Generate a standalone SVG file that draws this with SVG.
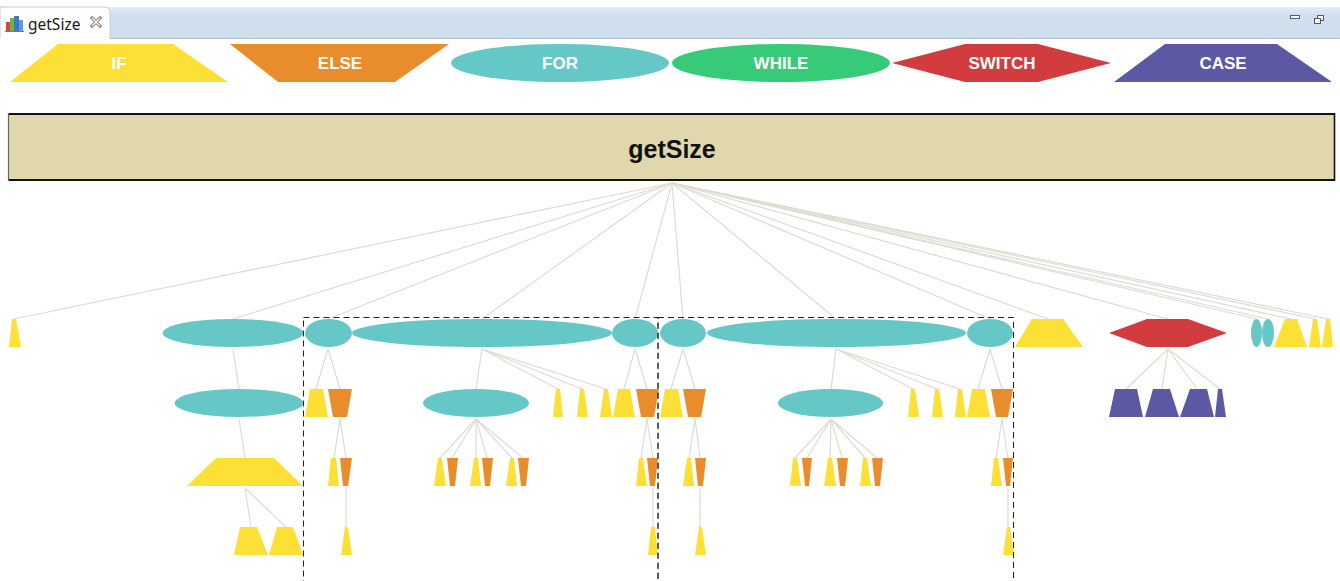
<svg xmlns="http://www.w3.org/2000/svg" width="1340" height="581" viewBox="0 0 1340 581">
  <style>
    .if { fill: #fde035; }
    .else { fill: #e98c2b; }
    .for { fill: #65c8c7; }
    .while { fill: #37cb79; }
    .switch { fill: #d33c3e; }
    .case { fill: #5d58a3; }
    .lbl { font-family: "Liberation Sans", Arial, sans-serif; font-size: 17px; font-weight: bold; fill: #ffffff; text-anchor: middle; }
    .edge { stroke: #dedbd2; stroke-width: 1.2; fill: none; }
    .frame { fill: none; stroke: #222222; stroke-width: 1; stroke-dasharray: 6 4; }
  </style>

  <rect x="0" y="0" width="1340" height="581" fill="#ffffff"/>

  <!-- editor tab strip -->
  <g id="tabbar">
    <defs>
      <linearGradient id="band" x1="0" y1="0" x2="0" y2="1">
        <stop offset="0" stop-color="#e4edf6"/>
        <stop offset="0.25" stop-color="#d1e0ee"/>
        <stop offset="1" stop-color="#cfdeec"/>
      </linearGradient>
    </defs>
    <rect x="0" y="7" width="1340" height="31" fill="url(#band)"/>
    <line x1="110" y1="38.5" x2="1340" y2="38.5" stroke="#aebdd0" stroke-width="1"/>
    <path d="M0,7 H104 Q110,7 110,13 V39 H0 Z" fill="#ffffff" stroke="#c2ccd8" stroke-width="1"/>
    <rect x="0" y="38" width="110" height="3" fill="#ffffff"/>
    <!-- chart icon -->
    <rect x="6" y="22" width="4" height="9" fill="#d8433b"/>
    <rect x="10" y="18" width="4" height="13" fill="#6cb33f"/>
    <rect x="14" y="16" width="5" height="15" fill="#3c78c8"/>
    <rect x="19" y="20" width="4" height="11" fill="#5b9be0"/>
    <line x1="5" y1="31.5" x2="24" y2="31.5" stroke="#7a7a7a" stroke-width="1"/>
    <text x="28" y="30" font-family="'Noto Sans', 'Liberation Sans', sans-serif" font-size="15.5" fill="#1a1a1a">getSize</text>
    <!-- close icon -->
    <g stroke="#8a8a8a" stroke-width="3.2" stroke-linecap="square">
      <line x1="92" y1="18" x2="100" y2="26"/>
      <line x1="100" y1="18" x2="92" y2="26"/>
    </g>
    <g stroke="#ffffff" stroke-width="1.2" stroke-linecap="square">
      <line x1="92.5" y1="18.5" x2="99.5" y2="25.5"/>
      <line x1="99.5" y1="18.5" x2="92.5" y2="25.5"/>
    </g>
    <!-- minimize / restore -->
    <rect x="1290.5" y="15.5" width="9" height="3" fill="#ffffff" stroke="#5a5a5a" stroke-width="1"/>
    <rect x="1317.5" y="15.5" width="6" height="5" fill="#ffffff" stroke="#5a5a5a" stroke-width="1"/>
    <rect x="1314.5" y="18.5" width="6" height="5" fill="#ffffff" stroke="#5a5a5a" stroke-width="1"/>
  </g>

  <!-- legend -->
  <g id="legend-if">
    <polygon class="if" points="58,44 173,44 228,82 10,82"/>
    <text class="lbl" x="119" y="69">IF</text>
  </g>
  <g id="legend-else">
    <polygon class="else" points="230,44 449,44 395,82 278,82"/>
    <text class="lbl" x="340" y="69">ELSE</text>
  </g>
  <g id="legend-for">
    <ellipse class="for" cx="560" cy="63" rx="109" ry="19"/>
    <text class="lbl" x="560" y="69">FOR</text>
  </g>
  <g id="legend-while">
    <ellipse class="while" cx="781" cy="63" rx="109" ry="19"/>
    <text class="lbl" x="781" y="69">WHILE</text>
  </g>
  <g id="legend-switch">
    <polygon class="switch" points="892,63 965,44 1038,44 1111,63 1038,82 965,82"/>
    <text class="lbl" x="1002" y="69">SWITCH</text>
  </g>
  <g id="legend-case">
    <polygon class="case" points="1165,44 1277,44 1332,82 1114,82"/>
    <text class="lbl" x="1223" y="69">CASE</text>
  </g>

  <!-- method root -->
  <g id="root">
    <rect x="8" y="113" width="1327" height="68" fill="#e0d8ac"/>
    <line x1="8" y1="114" x2="1335" y2="114" stroke="#111111" stroke-width="2.2"/>
    <line x1="8" y1="180" x2="1335" y2="180" stroke="#111111" stroke-width="2.2"/>
    <line x1="8.5" y1="113" x2="8.5" y2="181" stroke="#666666" stroke-width="1.2"/>
    <line x1="1334.5" y1="113" x2="1334.5" y2="181" stroke="#111111" stroke-width="1.6"/>
    <text x="672" y="158" font-family="'Liberation Sans', Arial, sans-serif" font-size="25" font-weight="bold" fill="#111111" text-anchor="middle">getSize</text>
  </g>

  <!-- connectors -->
  <g id="connectors" class="edge">
    <!-- root to first level -->
    <line x1="672" y1="183" x2="14" y2="319"/>
    <line x1="672" y1="183" x2="233" y2="319"/>
    <line x1="672" y1="183" x2="328" y2="319"/>
    <line x1="672" y1="183" x2="482" y2="319"/>
    <line x1="672" y1="183" x2="635" y2="319"/>
    <line x1="672" y1="183" x2="683" y2="319"/>
    <line x1="672" y1="183" x2="836" y2="319"/>
    <line x1="672" y1="183" x2="990" y2="319"/>
    <line x1="672" y1="183" x2="1048" y2="319"/>
    <line x1="672" y1="183" x2="1168" y2="319"/>
    <line x1="672" y1="183" x2="1257" y2="319"/>
    <line x1="672" y1="183" x2="1268" y2="319"/>
    <line x1="672" y1="183" x2="1291" y2="319"/>
    <line x1="672" y1="183" x2="1315" y2="319"/>
    <line x1="672" y1="183" x2="1328" y2="319"/>
    <!-- first to second level -->
    <line x1="233" y1="349" x2="239" y2="389"/>
    <line x1="328" y1="349" x2="316" y2="389"/>
    <line x1="328" y1="349" x2="340" y2="389"/>
    <line x1="482" y1="349" x2="476" y2="389"/>
    <line x1="482" y1="349" x2="558" y2="389"/>
    <line x1="482" y1="349" x2="582" y2="389"/>
    <line x1="482" y1="349" x2="606" y2="389"/>
    <line x1="635" y1="349" x2="624" y2="389"/>
    <line x1="635" y1="349" x2="647" y2="389"/>
    <line x1="683" y1="349" x2="671" y2="389"/>
    <line x1="683" y1="349" x2="695" y2="389"/>
    <line x1="836" y1="349" x2="831" y2="389"/>
    <line x1="836" y1="349" x2="913" y2="389"/>
    <line x1="836" y1="349" x2="937" y2="389"/>
    <line x1="836" y1="349" x2="960" y2="389"/>
    <line x1="990" y1="349" x2="978" y2="389"/>
    <line x1="990" y1="349" x2="1002" y2="389"/>
    <line x1="1168" y1="349" x2="1126" y2="389"/>
    <line x1="1168" y1="349" x2="1162" y2="389"/>
    <line x1="1168" y1="349" x2="1197" y2="389"/>
    <line x1="1168" y1="349" x2="1220" y2="389"/>
    <!-- second to third level -->
    <line x1="239" y1="419" x2="245" y2="458"/>
    <line x1="340" y1="419" x2="334" y2="458"/>
    <line x1="340" y1="419" x2="346" y2="458"/>
    <line x1="476" y1="419" x2="440" y2="458"/>
    <line x1="476" y1="419" x2="452" y2="458"/>
    <line x1="476" y1="419" x2="476" y2="458"/>
    <line x1="476" y1="419" x2="487" y2="458"/>
    <line x1="476" y1="419" x2="512" y2="458"/>
    <line x1="476" y1="419" x2="523" y2="458"/>
    <line x1="647" y1="419" x2="641" y2="458"/>
    <line x1="647" y1="419" x2="653" y2="458"/>
    <line x1="695" y1="419" x2="689" y2="458"/>
    <line x1="695" y1="419" x2="700" y2="458"/>
    <line x1="831" y1="419" x2="795" y2="458"/>
    <line x1="831" y1="419" x2="807" y2="458"/>
    <line x1="831" y1="419" x2="830" y2="458"/>
    <line x1="831" y1="419" x2="842" y2="458"/>
    <line x1="831" y1="419" x2="865" y2="458"/>
    <line x1="831" y1="419" x2="877" y2="458"/>
    <line x1="1002" y1="419" x2="996" y2="458"/>
    <line x1="1002" y1="419" x2="1008" y2="458"/>
    <!-- third to fourth level -->
    <line x1="245" y1="488" x2="251" y2="527"/>
    <line x1="245" y1="488" x2="286" y2="527"/>
    <line x1="346" y1="488" x2="346" y2="527"/>
    <line x1="653" y1="488" x2="653" y2="527"/>
    <line x1="700" y1="488" x2="700" y2="527"/>
    <line x1="1008" y1="488" x2="1008" y2="527"/>
  </g>

  <!-- first level -->
  <g id="n1-if"><polygon class="if" points="12,319 16,319 21,347 9,347"/></g>
  <g id="n1-for-a"><ellipse class="for" cx="233" cy="333" rx="70.5" ry="14"/></g>
  <g id="n1-for-b"><ellipse class="for" cx="328.5" cy="333" rx="23.5" ry="14"/></g>
  <g id="n1-for-c"><ellipse class="for" cx="482" cy="333" rx="130" ry="14"/></g>
  <g id="n1-for-d"><ellipse class="for" cx="635" cy="333" rx="23" ry="14"/></g>
  <g id="n1-for-e"><ellipse class="for" cx="683" cy="333" rx="23" ry="14"/></g>
  <g id="n1-for-f"><ellipse class="for" cx="836.5" cy="333" rx="129.5" ry="14"/></g>
  <g id="n1-for-g"><ellipse class="for" cx="990" cy="333" rx="23" ry="14"/></g>
  <g id="n1-if-b"><polygon class="if" points="1032,319 1063,319 1083,347 1015,347"/></g>
  <g id="n1-switch"><polygon class="switch" points="1109,333 1147,319 1188,319 1227,333 1188,347 1147,347"/></g>
  <g id="n1-for-h"><ellipse class="for" cx="1256.5" cy="333" rx="5.5" ry="14"/></g>
  <g id="n1-for-i"><ellipse class="for" cx="1268" cy="333" rx="6" ry="14"/></g>
  <g id="n1-if-c"><polygon class="if" points="1285,319 1297,319 1307,347 1274,347"/></g>
  <g id="n1-if-d"><polygon class="if" points="1313,319 1317,319 1321,347 1309,347"/></g>
  <g id="n1-if-e"><polygon class="if" points="1326,319 1330,319 1333,347 1322,347"/></g>

  <!-- second level -->
  <g id="n2-for-a"><ellipse class="for" cx="239" cy="403" rx="64.5" ry="14"/></g>
  <g id="n2-if-a"><polygon class="if" points="310,389 323,389 328,417 305,417"/></g>
  <g id="n2-else-a"><polygon class="else" points="328,389 352,389 347,417 333,417"/></g>
  <g id="n2-for-b"><ellipse class="for" cx="476" cy="403" rx="53" ry="14"/></g>
  <g id="n2-if-b"><polygon class="if" points="556,389 560,389 563,417 553,417"/></g>
  <g id="n2-if-c"><polygon class="if" points="580,389 584,389 588,417 577,417"/></g>
  <g id="n2-if-d"><polygon class="if" points="604,389 608,389 612,417 600,417"/></g>
  <g id="n2-if-e"><polygon class="if" points="618,389 630,389 635,417 613,417"/></g>
  <g id="n2-else-b"><polygon class="else" points="636,389 659,389 654,417 641,417"/></g>
  <g id="n2-if-f"><polygon class="if" points="665,389 678,389 683,417 660,417"/></g>
  <g id="n2-else-c"><polygon class="else" points="683,389 706,389 701,417 688,417"/></g>
  <g id="n2-for-c"><ellipse class="for" cx="830.5" cy="403" rx="52.5" ry="14"/></g>
  <g id="n2-if-g"><polygon class="if" points="911,389 915,389 919,417 908,417"/></g>
  <g id="n2-if-h"><polygon class="if" points="935,389 939,389 943,417 932,417"/></g>
  <g id="n2-if-i"><polygon class="if" points="958,389 962,389 966,417 955,417"/></g>
  <g id="n2-if-j"><polygon class="if" points="972,389 985,389 990,417 967,417"/></g>
  <g id="n2-else-d"><polygon class="else" points="991,389 1013,389 1008,417 996,417"/></g>
  <g id="n2-case-a"><polygon class="case" points="1115,389 1137,389 1143,417 1109,417"/></g>
  <g id="n2-case-b"><polygon class="case" points="1153,389 1170,389 1179,417 1145,417"/></g>
  <g id="n2-case-c"><polygon class="case" points="1190,389 1207,389 1214,417 1180,417"/></g>
  <g id="n2-case-d"><polygon class="case" points="1218,389 1222,389 1226,417 1215,417"/></g>

  <!-- third level -->
  <g id="n3-if-a"><polygon class="if" points="216,458 274,458 303,486 187,486"/></g>
  <g id="n3-if-b"><polygon class="if" points="331,458 336,458 339,486 328,486"/></g>
  <g id="n3-else-a"><polygon class="else" points="340,458 352,458 348,486 343,486"/></g>
  <g id="n3-if-c"><polygon class="if" points="438,458 442,458 446,486 434,486"/></g>
  <g id="n3-else-b"><polygon class="else" points="447,458 458,458 455,486 450,486"/></g>
  <g id="n3-if-d"><polygon class="if" points="474,458 478,458 481,486 470,486"/></g>
  <g id="n3-else-c"><polygon class="else" points="482,458 493,458 490,486 485,486"/></g>
  <g id="n3-if-e"><polygon class="if" points="510,458 514,458 517,486 506,486"/></g>
  <g id="n3-else-d"><polygon class="else" points="518,458 529,458 526,486 521,486"/></g>
  <g id="n3-if-f"><polygon class="if" points="639,458 643,458 647,486 636,486"/></g>
  <g id="n3-else-e"><polygon class="else" points="647,458 658,458 655,486 650,486"/></g>
  <g id="n3-if-g"><polygon class="if" points="687,458 691,458 694,486 683,486"/></g>
  <g id="n3-else-f"><polygon class="else" points="695,458 706,458 703,486 698,486"/></g>
  <g id="n3-if-h"><polygon class="if" points="793,458 797,458 801,486 790,486"/></g>
  <g id="n3-else-g"><polygon class="else" points="802,458 812,458 809,486 805,486"/></g>
  <g id="n3-if-i"><polygon class="if" points="828,458 832,458 836,486 824,486"/></g>
  <g id="n3-else-h"><polygon class="else" points="837,458 848,458 845,486 840,486"/></g>
  <g id="n3-if-j"><polygon class="if" points="863,458 867,458 871,486 860,486"/></g>
  <g id="n3-else-i"><polygon class="else" points="872,458 883,458 880,486 875,486"/></g>
  <g id="n3-if-k"><polygon class="if" points="994,458 998,458 1002,486 991,486"/></g>
  <g id="n3-else-j"><polygon class="else" points="1003,458 1013,458 1010,486 1006,486"/></g>

  <!-- fourth level -->
  <g id="n4-if-a"><polygon class="if" points="240,527 257,527 268,555 234,555"/></g>
  <g id="n4-if-b"><polygon class="if" points="277,527 293,527 303,555 269,555"/></g>
  <g id="n4-if-c"><polygon class="if" points="345,527 348,527 352,555 341,555"/></g>
  <g id="n4-if-d"><polygon class="if" points="651,527 655,527 658,555 648,555"/></g>
  <g id="n4-if-e"><polygon class="if" points="699,527 702,527 706,555 695,555"/></g>
  <g id="n4-if-f"><polygon class="if" points="1007,527 1010,527 1014,555 1003,555"/></g>

  <!-- selection frames -->
  <g id="frames">
    <rect class="frame" x="303.5" y="317.5" width="354.5" height="300"/>
    <rect class="frame" x="658" y="317.5" width="355.5" height="300"/>
  </g>
</svg>
